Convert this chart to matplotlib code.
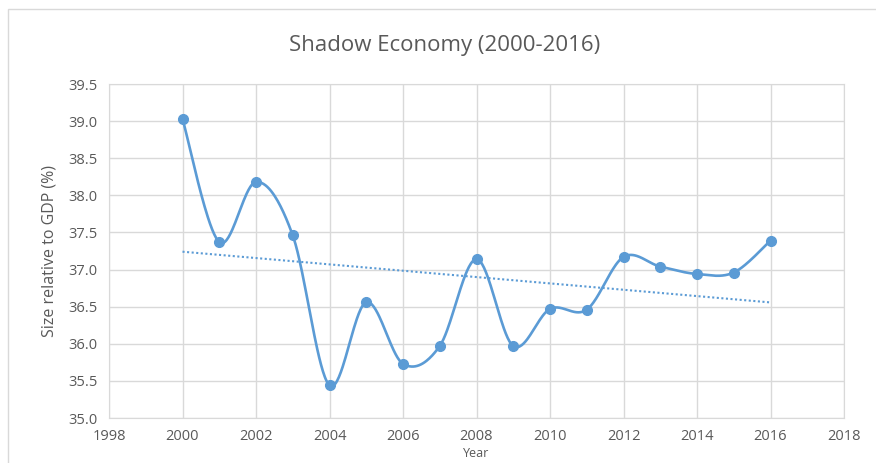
import numpy as np
import matplotlib
matplotlib.use('Agg')
import matplotlib.pyplot as plt
from matplotlib.patches import Rectangle

years = [2000, 2001, 2002, 2003, 2004, 2005, 2006, 2007, 2008,
         2009, 2010, 2011, 2012, 2013, 2014, 2015, 2016]
shadow = [39.03, 37.37, 38.18, 37.46, 35.44, 36.56, 35.73, 35.97, 37.14,
          35.97, 36.47, 36.46, 37.17, 37.04, 36.94, 36.96, 37.39]

blue = '#5B9BD5'
grey_text = '#595959'
grid_col = '#D9D9D9'

plt.rcParams['font.family'] = ['Open Sans', 'DejaVu Sans']


def excel_smooth(x, y, steps=40):
    # cubic bezier through the points, control points like Excel's smoothed line
    x = np.asarray(x, float)
    y = np.asarray(y, float)
    n = len(x)
    xs, ys = [], []
    for i in range(n - 1):
        p0 = np.array([x[max(i - 1, 0)], y[max(i - 1, 0)]])
        p1 = np.array([x[i], y[i]])
        p2 = np.array([x[i + 1], y[i + 1]])
        p3 = np.array([x[min(i + 2, n - 1)], y[min(i + 2, n - 1)]])
        c1 = p1 + (p2 - p0) / 6.0
        c2 = p2 - (p3 - p1) / 6.0
        t = np.linspace(0, 1, steps)[:, None]
        pts = ((1 - t) ** 3) * p1 + 3 * ((1 - t) ** 2) * t * c1 \
            + 3 * (1 - t) * t ** 2 * c2 + t ** 3 * p2
        xs.extend(pts[:, 0])
        ys.extend(pts[:, 1])
    return np.array(xs), np.array(ys)


fig = plt.figure(figsize=(8.76, 4.63), dpi=100)
fig.patches.append(Rectangle((8 / 876, -0.05), 1.1, 1 - 9 / 463 + 0.05,
                             transform=fig.transFigure, fill=False,
                             edgecolor=grid_col, linewidth=1.0))
ax = fig.add_axes([109 / 876, 1 - 418 / 463, (844 - 109) / 876, (418 - 84) / 463])

sx, sy = excel_smooth(years, shadow)
ax.plot(sx, sy, color=blue, linewidth=1.9, zorder=3)
ax.plot(years, shadow, 'o', color=blue, markersize=7, zorder=4)

# linear trendline
coef = np.polyfit(years, shadow, 1)
tx = np.array([years[0], years[-1]])
ax.plot(tx, np.polyval(coef, tx), linestyle=(0, (1, 1.2)), color=blue,
        linewidth=1.5, zorder=2)

ax.set_xlim(1998, 2018)
ax.set_ylim(35.0, 39.5)
ax.set_xticks(np.arange(1998, 2019, 2))
ax.set_yticks(np.arange(35.0, 39.51, 0.5))
ax.set_yticklabels([f'{v:.1f}' for v in np.arange(35.0, 39.51, 0.5)])
ax.grid(True, color=grid_col, linewidth=1.0)
ax.set_axisbelow(True)
for s in ax.spines.values():
    s.set_color(grid_col)
ax.tick_params(length=0, labelsize=10.5, colors=grey_text, pad=8)

ax.set_ylabel('Size relative to GDP (%)', fontsize=11.5, color=grey_text, labelpad=8)
ax.set_xlabel('Year', fontsize=9, color=grey_text, labelpad=2)
fig.text(445 / 876, 1 - 45 / 463, 'Shadow Economy (2000-2016)', ha='center',
         va='center', fontsize=16, color=grey_text)

fig.savefig('out.png', dpi=100)
